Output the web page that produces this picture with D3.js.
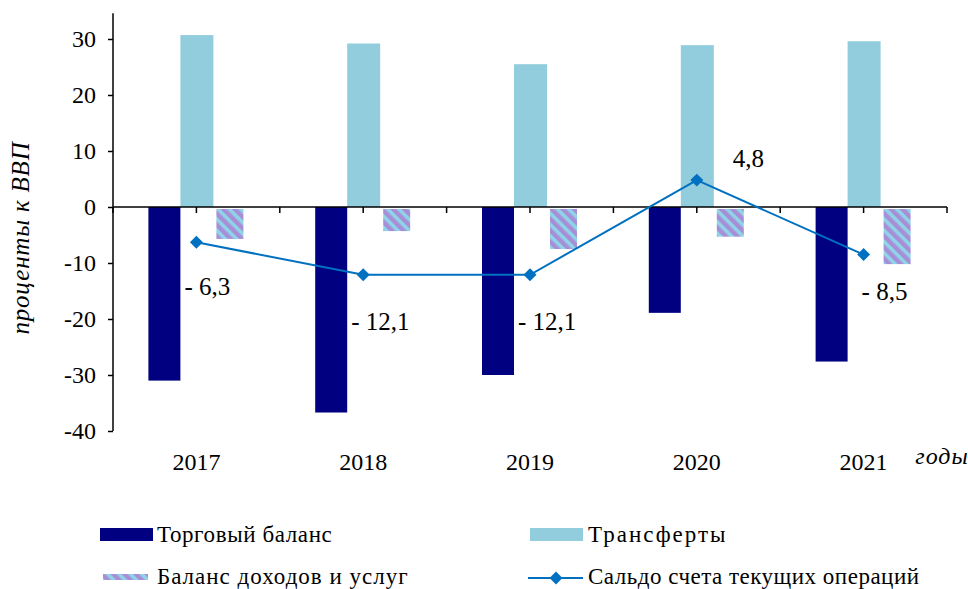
<!DOCTYPE html>
<meta charset="utf-8">
<body style="margin:0">
<svg width="968" height="589" style="display:block"></svg>
<script src="https://cdn.jsdelivr.net/npm/d3@7"></script>
<script>
    // данные
    var years = ['2017', '2018', '2019', '2020', '2021'];
    var trade = [-31.0, -36.7, -30.0, -18.9, -27.6];
    var transfers = [30.7, 29.2, 25.5, 28.9, 29.6];
    var income = [-5.7, -4.3, -7.5, -5.3, -10.2];
    var saldo = [-6.3, -12.1, -12.1, 4.8, -8.5];
    var saldoLabels = ['- 6,3', '- 12,1', '- 12,1', '4,8', '- 8,5'];
    var yTicks = [-40, -30, -20, -10, 0, 10, 20, 30];
    // смещения подписей от точки
    var labelOffsets = [[-12, 44], [-12, 46], [-12, 46], [36, -22], [-2, 36]];

    var svg = d3.select('svg');
    var left = 113, right = 947;

    // все подписи одним шрифтом
    function serif(sel, size) {
        return sel.style('font-family', '"Liberation Serif"')
            .attr('font-size', size)
            .attr('fill', '#000');
    }

    var x = d3.scaleBand().domain(years).range([left, right]);
    var y = d3.scaleLinear().domain([-40, 35]).range([431, 11]);

    // штриховка для баланса доходов
    var defs = svg.append('defs');
    var pat = defs.append('pattern')
        .attr('id', 'stripes')
        .attr('patternUnits', 'userSpaceOnUse')
        .attr('width', 8).attr('height', 8)
        .attr('patternTransform', 'rotate(-45)');
    pat.append('rect').attr('width', 8).attr('height', 8).attr('fill', '#8fd5e8');
    pat.append('rect').attr('width', 4.5).attr('height', 8).attr('fill', '#a78fd8');

    var g = svg.append('g');
    var bw = x.bandwidth();

    // столбцы
    g.selectAll('.trade').data(years).enter().append('rect')
        .attr('x', function (d) { return x(d) + bw / 2 - 48; })
        .attr('width', 32)
        .attr('y', y(0))
        .attr('height', function (d, i) { return y(trade[i]) - y(0); })
        .attr('fill', '#000080');

    g.selectAll('.transf').data(years).enter().append('rect')
        .attr('x', function (d) { return x(d) + bw / 2 - 16; })
        .attr('width', 33)
        .attr('y', function (d, i) { return y(transfers[i]); })
        .attr('height', function (d, i) { return y(0) - y(transfers[i]); })
        .attr('fill', '#92cddd');

    g.selectAll('.income').data(years).enter().append('rect')
        .attr('x', function (d) { return x(d) + bw / 2 + 20; })
        .attr('width', 27)
        .attr('y', y(0) + 2)
        .attr('height', function (d, i) { return y(income[i]) - y(0) - 2; })
        .attr('fill', 'url(#stripes)');

    // ось Y
    var yAxis = g.append('g')
        .attr('transform', 'translate(' + left + ',0)')
        .call(d3.axisLeft(y).tickValues(yTicks).tickSize(5).tickPadding(12)
            .tickFormat(function (d) { return String(d); }));
    yAxis.attr('font-family', null).attr('font-size', null);
    yAxis.select('.domain').remove();
    yAxis.append('line')
        .attr('x1', 0).attr('x2', 0)
        .attr('y1', y(34.6)).attr('y2', y(-40))
        .attr('stroke', '#000').attr('stroke-width', 1.5);
    yAxis.selectAll('.tick line').attr('stroke', '#000').attr('stroke-width', 1.5);
    serif(yAxis.selectAll('.tick text'), 24);

    // ось X на нуле
    g.append('line')
        .attr('x1', left).attr('x2', right)
        .attr('y1', y(0)).attr('y2', y(0))
        .attr('stroke', '#000').attr('stroke-width', 1.5);
    var tickXs = [];
    years.forEach(function (d) {
        tickXs.push(x(d));
        tickXs.push(x(d) + bw / 2);
    });
    tickXs.push(right);
    g.selectAll('.xt').data(tickXs).enter().append('line')
        .attr('x1', function (d) { return d; })
        .attr('x2', function (d) { return d; })
        .attr('y1', y(0)).attr('y2', y(0) + 6)
        .attr('stroke', '#000').attr('stroke-width', 1.5);

    serif(g.selectAll('.year').data(years).enter().append('text'), 24)
        .attr('x', function (d) { return x(d) + bw / 2; })
        .attr('y', 470)
        .attr('text-anchor', 'middle')
        .text(function (d) { return d; });

    // линия сальдо
    var line = d3.line()
        .x(function (d, i) { return x(years[i]) + bw / 2; })
        .y(function (d) { return y(d); });
    g.append('path')
        .datum(saldo)
        .attr('d', line)
        .attr('fill', 'none')
        .attr('stroke', '#0070c0')
        .attr('stroke-width', 2);
    var diamond = d3.symbol().type(d3.symbolSquare).size(84);
    g.selectAll('.mk').data(saldo).enter().append('path')
        .attr('d', diamond)
        .attr('transform', function (d, i) {
            return 'translate(' + (x(years[i]) + bw / 2) + ',' + y(d) + ') rotate(45)';
        })
        .attr('fill', '#0070c0');

    serif(g.selectAll('.lbl').data(saldo).enter().append('text'), 25)
        .attr('x', function (d, i) { return x(years[i]) + bw / 2 + labelOffsets[i][0]; })
        .attr('y', function (d, i) { return y(d) + labelOffsets[i][1] + 9; })
        .text(function (d, i) { return saldoLabels[i]; });

    // подписи осей
    serif(svg.append('text'), 25)
        .attr('transform', 'translate(29,238) rotate(-90)')
        .attr('text-anchor', 'middle')
        .attr('font-style', 'italic')
        .attr('letter-spacing', 0.8)
        .text('проценты к ВВП');
    serif(svg.append('text'), 24)
        .attr('x', 942).attr('y', 464)
        .attr('text-anchor', 'middle')
        .attr('font-style', 'italic')
        .attr('letter-spacing', 1)
        .text('годы');

    // легенда
    var lg = svg.append('g');
    function legendText(tx, ty, s, ls) {
        serif(lg.append('text'), 23)
            .attr('x', tx).attr('y', ty)
            .attr('letter-spacing', ls)
            .text(s);
    }
    lg.append('rect').attr('x', 100).attr('y', 528).attr('width', 53).attr('height', 13).attr('fill', '#000080');
    legendText(157, 542, 'Торговый баланс', 0.6);
    lg.append('rect').attr('x', 530).attr('y', 528).attr('width', 53).attr('height', 13).attr('fill', '#92cddd');
    legendText(588, 542, 'Трансферты', 2);
    lg.append('rect').attr('x', 103).attr('y', 574).attr('width', 45).attr('height', 6).attr('fill', 'url(#stripes)');
    legendText(157, 584, 'Баланс доходов и услуг', 1);
    lg.append('line').attr('x1', 528).attr('x2', 583).attr('y1', 578).attr('y2', 578)
        .attr('stroke', '#0070c0').attr('stroke-width', 2);
    lg.append('path').attr('d', diamond).attr('transform', 'translate(556,578) rotate(45)').attr('fill', '#0070c0');
    legendText(588, 584, 'Сальдо счета текущих операций', 0.5);
</script>
